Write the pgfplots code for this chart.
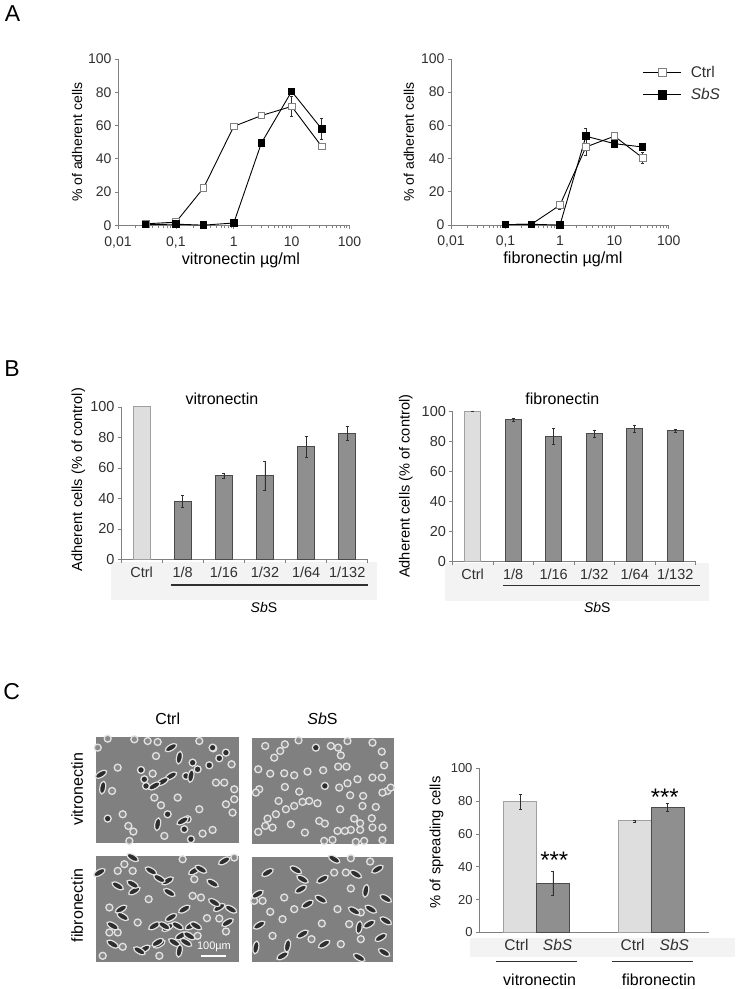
\documentclass[border=0pt]{standalone}
\usepackage{pgfplots}
\usepackage{fontspec}
\setmainfont{Liberation Sans}
\pgfplotsset{compat=1.18}
\definecolor{txt}{HTML}{303030}
\definecolor{axc}{HTML}{808080}
\definecolor{lbar}{HTML}{DEDEDE}
\definecolor{lbard}{HTML}{A0A0A0}
\definecolor{dbar}{HTML}{8F8F8F}
\definecolor{dbard}{HTML}{4A4A4A}
\definecolor{band}{HTML}{F3F3F3}
\definecolor{photo}{HTML}{808080}
\definecolor{ring}{HTML}{E2E2E2}
\definecolor{cellf}{HTML}{8A8A8A}
\definecolor{celld}{HTML}{2E2E2E}
\newcommand{\tfs}[1]{\fontsize{#1}{#1}\selectfont}
\pgfdeclareplotmark{cellE}{%
  \pgfpathellipse{\pgfpointorigin}{\pgfpoint{1.7\pgfplotmarksize}{0pt}}{\pgfpoint{0pt}{0.75\pgfplotmarksize}}%
  \pgfusepathqfillstroke}
\pgfplotsset{
  fbase/.style={
    scale only axis, clip=false,
    axis x line*=bottom, axis y line*=left,
    axis line style={axc,line width=0.8pt},
    tick style={axc,line width=0.8pt},
    tick align=outside, major tick length=3.5pt,
    ymin=0, ymax=100, ytick distance=20,
    /pgf/number format/assume math mode=true,
    tick label style={font=\tfs{14},text=txt},
    yticklabel style={xshift=0.5pt},
  },
  flineplot/.style={fbase,
    xmin=0.01, xmax=100,
    xtick={0.01,0.1,1,10,100}, xticklabels={{0,01},{0,1},1,10,100},
    minor x tick num=0, xticklabel style={yshift=-4pt},
  },
  cerr/.style={error bars/.cd, y dir=both, y explicit,
    error bar style={color=txt,line width=0.6pt},
    error mark options={rotate=90,mark size=1.5pt,color=txt,line width=0.6pt}},
  ctrlline/.style={black,line width=0.9pt,mark=square*,mark size=3.3pt,
    mark options={fill=white,draw=axc,line width=0.8pt,solid}},
  sbsline/.style={black,line width=0.9pt,mark=square*,mark size=3.3pt,
    mark options={fill=black,draw=black,solid}},
  barplot/.style={fbase, ybar, xmin=-0.5, xmax=5.5,
    xtick={-0.5,0.5,1.5,2.5,3.5,4.5,5.5}, x tick label as interval,
    xticklabels={Ctrl,1/8,1/16,1/32,1/64,1/132},
    tick label style={font=\tfs{14.5},text=txt},
    /pgf/bar shift=0pt},
  lb/.style={fill=lbar,draw=lbard,line width=0.9pt},
  db/.style={fill=dbar,draw=dbard,line width=0.9pt},
  cellr/.style={only marks,mark=*,mark size=#1,mark options={fill=cellf,draw=ring,line width=1.3pt}},
  cellk/.style={only marks,mark=*,mark size=#1,mark options={fill=celld,draw=ring,line width=1.3pt}},
  celle/.style={only marks,mark=cellE,mark size=3.8pt,mark options={fill=celld,draw=ring,line width=1.2pt,rotate=#1}},
}
\begin{document}
\begin{tikzpicture}[x=1pt,y=1pt]
\path (0pt,0pt) rectangle (738pt,989pt);
% grey bands
\fill[band] (110pt,388pt) rectangle (376pt,426pt);
\fill[band] (444pt,387pt) rectangle (709pt,425.7pt);
\fill[band] (469.3pt,31.3pt) rectangle (734.3pt,49.7pt);
% photos
\fill[photo] (94.7pt,145.7pt) rectangle (237.7pt,251.7pt);
\fill[photo] (251pt,144pt) rectangle (393.3pt,250pt);
\fill[photo] (94.7pt,25.7pt) rectangle (237.7pt,132.3pt);
\fill[photo] (251pt,25.7pt) rectangle (392.7pt,131.7pt);

% A1
\begin{semilogxaxis}[flineplot, at={(117pt,763.3pt)}, anchor=south west, width=231.7pt, height=166.7pt,
  ylabel={\% of adherent cells}, xlabel={vitronectin µg/ml},
  every axis y label/.style={at={(axis description cs:-0.177,0.5)},rotate=90,anchor=center,font=\tfs{14}},
  every axis x label/.style={at={(axis description cs:0.531,-0.21)},anchor=center,font=\tfs{16.2}}]
\addplot[ctrlline,cerr] table[x=x,y=y,y error=e] {
x y e
0.03 1 0.5
0.1 2 0.5
0.3 22.5 1
1 59.5 2
3 66 1
10 71.5 6
33 47.5 1
};
\addplot[sbsline,cerr] table[x=x,y=y,y error=e] {
x y e
0.03 0.5 0.3
0.1 0.8 0.3
0.3 0.2 0.2
1 1.5 0.5
3 49.5 1
10 80.5 2
33 58 6.5
};
\end{semilogxaxis}

% A2
\begin{semilogxaxis}[flineplot, at={(450.3pt,763.7pt)}, anchor=south west, width=218pt, height=166.3pt,
  ylabel={\% of adherent cells}, xlabel={fibronectin µg/ml},
  every axis y label/.style={at={(axis description cs:-0.193,0.5)},rotate=90,anchor=center,font=\tfs{14}},
  every axis x label/.style={at={(axis description cs:0.514,-0.209)},anchor=center,font=\tfs{16.2}},
  legend style={at={(rel axis cs:0.88,0.972)},anchor=north west,draw=none,fill=none,
    font=\tfs{15.5},text=txt,row sep=6pt,inner sep=0pt,
    /tikz/column 1/.style={column sep=7pt}},
  legend cell align=left,
  legend image code/.code={\draw[mark repeat=2,mark phase=2,#1,mark size=4.2pt] plot coordinates {(0pt,0pt)(19pt,0pt)(38pt,0pt)};}]
\addplot[ctrlline,cerr] table[x=x,y=y,y error=e] {
x y e
0.1 0.3 0.2
0.3 0.5 0.2
1 12 2.5
3 47 5
10 53.5 1
33 40.5 3.5
};
\addlegendentry{Ctrl}
\addplot[sbsline,cerr] table[x=x,y=y,y error=e] {
x y e
0.1 0.3 0.2
0.3 0.5 0.2
1 0 0.2
3 53.5 4.5
10 49 1.5
33 47 1
};
\addlegendentry{\textit{SbS}}
\end{semilogxaxis}

% B1
\begin{axis}[barplot, at={(120pt,429pt)}, anchor=south west, width=247pt, height=152.7pt,
  bar width=17pt, ylabel={Adherent cells (\% of control)},
  every axis y label/.style={at={(axis description cs:-0.173,0.524)},rotate=90,anchor=center,font=\tfs{14.6}}]
\addplot[lb] coordinates {(0,100)};
\addplot[db,cerr] table[x=x,y=y,y error=e] {
x y e
1 38 4
2 55 1.8
3 55 9.5
4 74 7
5 82.5 4.5
};
\end{axis}

% B2
\begin{axis}[barplot, at={(451.7pt,426.7pt)}, anchor=south west, width=243.3pt, height=150.6pt,
  bar width=16pt, ylabel={Adherent cells (\% of control)},
  every axis y label/.style={at={(axis description cs:-0.192,0.502)},rotate=90,anchor=center,font=\tfs{14.6}}]
\addplot[lb,cerr] table[x=x,y=y,y error=e] {
x y e
0 100 0.3
};
\addplot[db,cerr] table[x=x,y=y,y error=e] {
x y e
1 94.5 1
2 83.5 5.5
3 85 2.5
4 88.5 2.5
5 87 1
};
\end{axis}

% C chart
\begin{axis}[fbase, ybar, at={(478.3pt,55.7pt)}, anchor=south west, width=230pt, height=164.3pt,
  /pgf/bar shift=0pt, bar width=33pt, xmin=-0.5, xmax=1.5,
  xtick={-0.174,0.184,0.837,1.2}, xticklabels={Ctrl,\textit{SbS},Ctrl,\textit{SbS}},
  major x tick style={draw=none},
  extra x ticks={-0.5,0.5,1.5}, extra x tick labels={},
  extra x tick style={major tick length=3.5pt,tick style={axc,line width=0.8pt}},
  xticklabel style={font=\tfs{15.5}}, yticklabel style={font=\tfs{13}},
  ylabel={\% of spreading cells},
  every axis y label/.style={at={(axis description cs:-0.185,0.548)},rotate=90,anchor=center,font=\tfs{14.8}}]
\addplot[lb,cerr] table[x=x,y=y,y error=e] {
x y e
-0.143 79.5 4.5
0.857 68 0.6
};
\addplot[db,cerr] table[x=x,y=y,y error=e] {
x y e
0.143 30 7.5
1.143 76 2.5
};
\end{axis}

% micrograph cells, positions read from the reference
\begin{axis}[at={(0pt,9pt)}, anchor=south west, scale only axis, width=410pt, height=300pt,
  xmin=0, xmax=1230, ymin=0, ymax=900, y dir=reverse, hide axis, clip=false]
\addplot[cellr=3.5pt] coordinates {
(465,230)(595,185)(637,207)(692,255)(350,265)(333,335)(290,205)(455,283)(480,378)(595,390)(365,405)(382,440)(397,457)(605,463)(635,452)(490,470)(645,310)(670,310)(530,355)(460,355)(700,330)(675,375)(700,360)(695,400)(385,485)(440,185)(470,188)(320,178)(400,180)
(793,200)(852,195)(893,183)(820,235)(838,215)(990,200)(1012,205)(1020,228)(1040,185)(1115,190)(1143,217)(1150,258)(772,270)(808,283)(850,282)(880,288)(920,277)(967,273)(1012,262)(1037,262)(1115,295)(1143,295)(852,323)(895,337)(1015,325)(1040,312)(1070,300)(775,330)(765,340)(1048,348)(1087,350)(1160,335)(1145,340)(833,365)(855,390)(880,380)(905,368)(925,365)(950,372)(1018,390)(1085,380)(1125,383)(800,418)(825,405)(793,440)(815,445)(870,435)(955,425)(972,433)(1060,418)(1113,417)(1078,432)(1050,452)(1078,452)(1115,445)(1145,445)(912,460)(772,458)(1010,455)(1032,455)(970,485)(995,482)(1065,488)(1090,485)(1145,483)(1170,325)
(350,575)(395,575)(325,685)(443,660)(305,830)(365,803)(325,760)(350,760)(618,717)(655,718)(675,757)(600,655)(575,650)(475,830)(580,600)(545,540)(370,555)(700,535)(410,730)(590,770)
(850,655)(808,698)(815,770)(932,780)(1010,690)(1080,780)(1020,795)(963,733)(1050,628)(1000,580)(1035,580)(1108,547)(1050,537)(880,690)(760,665)(785,665)(1045,735)(845,720)(1080,700)
};
\addplot[cellk=3.5pt] coordinates {
(420,272)(625,258)(635,205)(675,220)(655,237)(575,250)(320,418)(560,420)(550,450)(570,480)(500,405)(945,205)(972,320)(555,290)(590,270)(435,320)(430,300)
};
\addplot[celle=30] coordinates {
(510,205)(510,290)(485,307)(460,320)(545,425)(300,285)(295,580)(400,635)(500,605)(580,575)(670,545)(360,690)(460,740)(510,715)(570,740)(430,810)(475,795)(680,730)(550,690)(655,685)(500,745)(540,770)(470,790)
(800,580)(965,600)(900,630)(920,675)(1130,570)(775,738)(905,765)(970,795)(1140,775)(845,830)(1105,735)(770,645)
};
\addplot[celle=150] coordinates {
(350,620)(395,615)(475,598)(450,575)(600,570)(635,612)(365,712)(335,740)(490,740)(585,740)(335,795)(415,815)(690,690)(565,770)(395,535)(505,640)(640,670)(530,740)(555,790)(520,790)
(885,572)(905,600)(960,660)(1000,540)(1065,585)(1155,658)(1060,695)(1110,690)(1155,725)(1150,820)(1075,835)
};
\addplot[celle=80] coordinates {
(535,235)(570,290)(305,325)(470,435)(535,815)
(860,800)(1095,635)(1075,745)(765,805)
};
\end{axis}

% texts
\node[anchor=center,font=\tfs{23}] at (11.5pt,975pt) {A};
\node[anchor=center,font=\tfs{23}] at (11pt,620.5pt) {B};
\node[anchor=center,font=\tfs{23}] at (10.5pt,297pt) {C};
\node[font=\tfs{16}] at (221pt,590pt) {vitronectin};
\node[font=\tfs{16}] at (561.7pt,590pt) {fibronectin};
\draw[txt,line width=1.4pt] (170pt,403.3pt) -- (366.7pt,403.3pt);
\draw[txt,line width=1.4pt] (502.7pt,403pt) -- (699pt,403pt);
\node[font=\tfs{14}] at (263pt,381pt) {\textit{Sb}S};
\node[font=\tfs{14}] at (596.7pt,380.7pt) {\textit{Sb}S};
\draw[txt,line width=1.2pt] (495pt,26.7pt) -- (576.7pt,26.7pt);
\draw[txt,line width=1.2pt] (611pt,26.7pt) -- (692.7pt,26.7pt);
\node[font=\tfs{16}] at (539pt,8.3pt) {vitronectin};
\node[font=\tfs{16}] at (658.3pt,8.3pt) {fibronectin};
\node[font=\tfs{24}] at (553.7pt,128pt) {***};
\node[font=\tfs{24}] at (664.3pt,191.3pt) {***};
\node[font=\tfs{16}] at (166.7pt,270pt) {Ctrl};
\node[font=\tfs{16}] at (321.7pt,270pt) {\textit{Sb}S};
\node[rotate=90,font=\tfs{16}] at (76pt,199pt) {vitronectin};
\node[rotate=90,font=\tfs{16}] at (76pt,83pt) {fibronectin};
\node[white,font=\tfs{11}] at (213pt,41.3pt) {100µm};
\draw[white,line width=2.5pt] (200pt,32.3pt) -- (225pt,32.3pt);
\end{tikzpicture}
\end{document}
